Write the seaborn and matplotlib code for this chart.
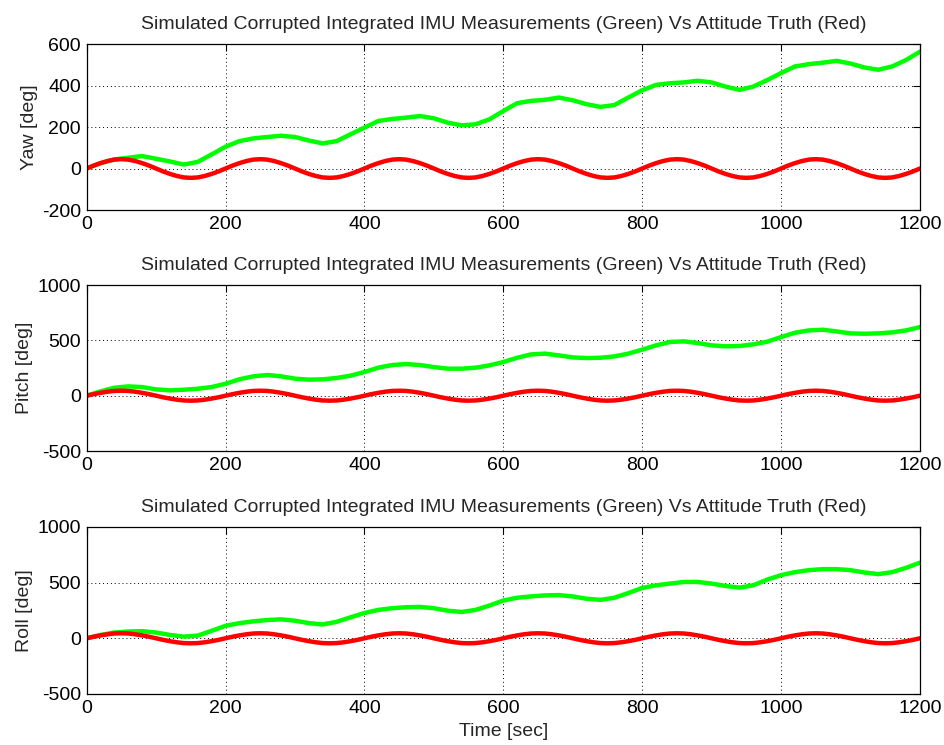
import numpy as np
import pandas as pd
import seaborn as sns
import matplotlib
matplotlib.use("Agg")
import matplotlib.pyplot as plt

# ---- data (time in sec, angles in deg) ----
t_green = list(range(0, 1201, 20))
t_red = list(range(0, 1201, 10))

truth = [0, 14, 26, 36, 43, 45, 43, 36, 26, 14, 0, -14, -26, -36, -43, -45, -43, -36, -26, -14,
         0, 14, 26, 36, 43, 45, 43, 36, 26, 14, 0, -14, -26, -36, -43, -45, -43, -36, -26, -14,
         0, 14, 26, 36, 43, 45, 43, 36, 26, 14, 0, -14, -26, -36, -43, -45, -43, -36, -26, -14,
         0, 14, 26, 36, 43, 45, 43, 36, 26, 14, 0, -14, -26, -36, -43, -45, -43, -36, -26, -14,
         0, 14, 26, 36, 43, 45, 43, 36, 26, 14, 0, -14, -26, -36, -43, -45, -43, -36, -26, -14,
         0, 14, 26, 36, 43, 45, 43, 36, 26, 14, 0, -14, -26, -36, -43, -45, -43, -36, -26, -14,
         0]

yaw_meas = [0, 26, 44, 52, 60, 47, 34, 19, 32, 68,
            105, 132, 145, 152, 158, 152, 135, 121, 132, 165,
            197, 229, 239, 245, 253, 242, 221, 208, 213, 237,
            277, 315, 326, 331, 342, 329, 310, 297, 306, 342,
            377, 403, 411, 415, 423, 415, 395, 379, 395, 426,
            460, 492, 503, 510, 519, 506, 487, 476, 492, 523,
            563]
pitch_meas = [0, 39, 72, 84, 78, 57, 48, 54, 63, 78,
              108, 148, 175, 187, 175, 154, 145, 148, 160, 181,
              214, 253, 277, 286, 277, 259, 244, 244, 253, 274,
              304, 343, 373, 380, 364, 346, 340, 343, 355, 380,
              416, 455, 485, 491, 476, 455, 446, 449, 464, 488,
              530, 569, 590, 596, 581, 563, 560, 563, 572, 590,
              620]
roll_meas = [0, 30, 52, 61, 64, 52, 30, 15, 24, 67,
             112, 136, 152, 164, 170, 158, 136, 124, 148, 188,
             227, 255, 270, 279, 282, 270, 248, 236, 255, 294,
             339, 364, 376, 385, 388, 376, 355, 345, 364, 406,
             452, 476, 491, 506, 506, 491, 470, 455, 476, 527,
             567, 594, 612, 621, 621, 612, 591, 576, 594, 633,
             679]

panels = ["Yaw [deg]", "Pitch [deg]", "Roll [deg]"]
yticks_list = [[-200, 0, 200, 400, 600], [-500, 0, 500, 1000], [-500, 0, 500, 1000]]
xticks = [0, 200, 400, 600, 800, 1000, 1200]
title = "Simulated Corrupted Integrated IMU Measurements (Green) Vs Attitude Truth (Red)"

sns.set_theme(style="white")
plt.rcParams['font.family'] = ['Liberation Sans', 'DejaVu Sans']

fig = plt.figure(figsize=(9.45, 7.45), dpi=100)
rects = [[0.0917, 0.7181, 0.8818, 0.2228],
         [0.0917, 0.3946, 0.8818, 0.2228],
         [0.0917, 0.0685, 0.8818, 0.2242]]

meas_all = [yaw_meas, pitch_meas, roll_meas]
for i in range(3):
    ax = fig.add_axes(rects[i])
    g = pd.DataFrame({"t": t_green, "v": meas_all[i]})
    r = pd.DataFrame({"t": t_red, "v": truth})
    sns.lineplot(data=g, x="t", y="v", color=(0, 1, 0), linewidth=3.2, ax=ax)
    sns.lineplot(data=r, x="t", y="v", color=(1, 0, 0), linewidth=3.2, ax=ax)
    yt = yticks_list[i]
    ax.set_xlim(0, 1200)
    ax.set_ylim(yt[0], yt[-1])
    ax.set_xticks(xticks)
    ax.set_yticks(yt)
    ax.set_xticklabels([str(v) for v in xticks])
    ax.set_yticklabels([str(v) for v in yt])
    ax.grid(True, color='black', linestyle=(0, (1, 3)), linewidth=0.7)
    ax.tick_params(direction='in', length=5, width=0.8, top=True, right=True,
                   labelsize=14, colors='black', pad=4)
    for s in ax.spines.values():
        s.set_color('black')
        s.set_linewidth(0.9)
    ax.set_ylabel(panels[i], fontsize=14, labelpad=3)
    ax.set_xlabel("Time [sec]" if i == 2 else "", fontsize=14, labelpad=5)
    ax.set_title(title, fontsize=14, pad=11)

fig.savefig("out.png", dpi=100, facecolor='white')
